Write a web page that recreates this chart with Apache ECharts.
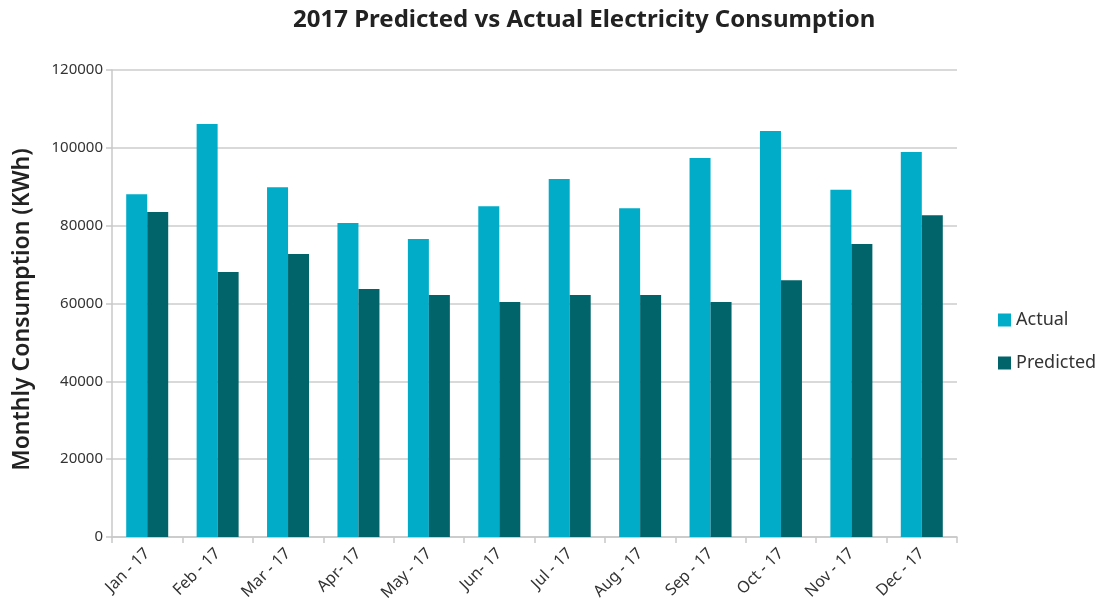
<!DOCTYPE html>
<html>
<head>
<meta charset="utf-8">
<script src="https://cdn.jsdelivr.net/npm/echarts@6/dist/echarts.min.js"></script>
<style>
  html, body { margin: 0; padding: 0; background: #fff; }
  #chart { width: 1107px; height: 606px; }
</style>
</head>
<body>
<div id="chart"></div>
<script>
// Monthly electricity consumption for 2017, in KWh
const months = ['Jan - 17', 'Feb - 17', 'Mar - 17', 'Apr- 17', 'May - 17', 'Jun- 17',
                'Jul - 17', 'Aug - 17', 'Sep - 17', 'Oct - 17', 'Nov - 17', 'Dec - 17'];
const actual = [88100, 106100, 89900, 80700, 76600, 85000, 92000, 84500, 97400, 104300, 89200, 98900];
const predicted = [83500, 68100, 72700, 63700, 62200, 60400, 62200, 62200, 60400, 66000, 75300, 82700];
const yTicks = { min: 0, max: 120000, interval: 20000 };

const FONT = '"Noto Sans", "Open Sans", sans-serif';
const chart = echarts.init(document.getElementById('chart'), null, { renderer: 'canvas' });

chart.setOption({
  animation: false,
  textStyle: { fontFamily: FONT },
  title: {
    text: '2017 Predicted vs Actual Electricity Consumption',
    left: 288,
    top: 3,
    textStyle: { fontFamily: FONT, fontSize: 24, fontWeight: 'bold', color: '#222' }
  },
  legend: {
    orient: 'vertical',
    left: 993,
    top: 306,
    itemWidth: 13,
    itemHeight: 13,
    itemGap: 25,
    icon: 'rect',
    textStyle: { fontFamily: FONT, fontSize: 18, color: '#333' },
    data: ['Actual', 'Predicted']
  },
  grid: { left: 112, right: 150, top: 70, bottom: 69, containLabel: false },
  xAxis: {
    type: 'category',
    data: months,
    axisLine: { lineStyle: { color: '#c8c8c8', width: 1.5 } },
    axisTick: { show: true, length: 6, alignWithLabel: false, lineStyle: { color: '#c8c8c8', width: 1.5 } },
    axisLabel: { rotate: 45, fontSize: 16, color: '#333', margin: 14, interval: 0 }
  },
  yAxis: {
    type: 'value',
    min: yTicks.min,
    max: yTicks.max,
    interval: yTicks.interval,
    name: 'Monthly Consumption (KWh)',
    nameLocation: 'middle',
    nameGap: 78,
    nameTextStyle: { fontFamily: FONT, fontSize: 23, fontWeight: 600, color: '#222', padding: [0, 12, 0, 0] },
    axisLine: { show: true, lineStyle: { color: '#c8c8c8', width: 1.5 } },
    axisTick: { show: true, length: 6, lineStyle: { color: '#c8c8c8', width: 1.5 } },
    axisLabel: { fontSize: 15, color: '#333', margin: 9, formatter: v => String(v) },
    splitLine: { lineStyle: { color: '#cccccc', width: 1.5 } }
  },
  series: [
    {
      name: 'Actual',
      type: 'bar',
      data: actual,
      barWidth: 21,
      barGap: '0%',
      itemStyle: { color: '#00acc8' }
    },
    {
      name: 'Predicted',
      type: 'bar',
      data: predicted,
      barWidth: 21,
      barGap: '0%',
      itemStyle: { color: '#00646a' }
    }
  ]
});
</script>
</body>
</html>
